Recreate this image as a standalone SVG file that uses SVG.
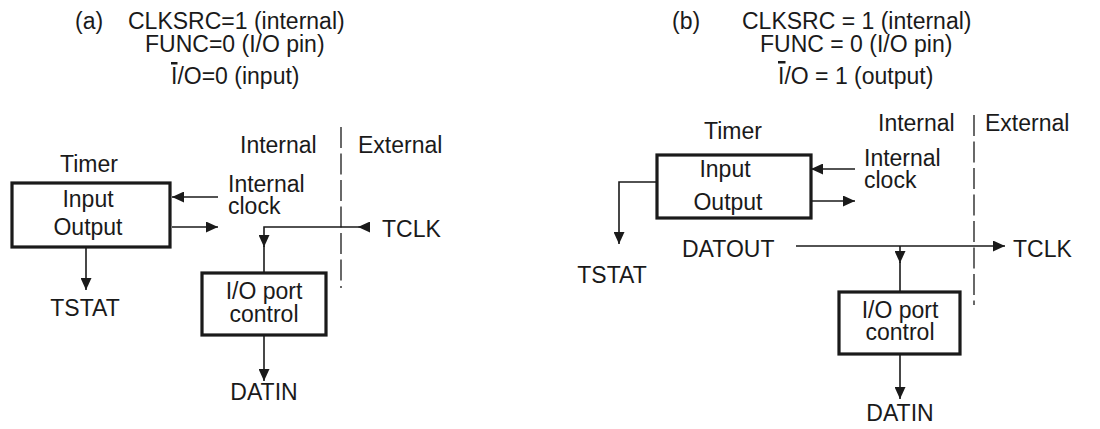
<svg xmlns="http://www.w3.org/2000/svg" width="1100" height="429" viewBox="0 0 1100 429">
<defs>
<style>
text{font-family:"Liberation Sans",Arial,Helvetica,sans-serif;font-size:23px;fill:#1a1a1a}
.box{fill:#fff;stroke:#1a1a1a;stroke-width:3.2}
.ln{fill:none;stroke:#1a1a1a;stroke-width:1.6}
.arr{fill:none;stroke:#1a1a1a;stroke-width:1.6;marker-end:url(#ah)}
.dash{fill:none;stroke:#444;stroke-width:1.6;stroke-dasharray:21 5.5}
.bar{fill:#1a1a1a}
.mid{text-anchor:middle}
</style>
<marker id="ah" viewBox="0 0 12 11" refX="12" refY="5.5" markerWidth="12" markerHeight="11" markerUnits="userSpaceOnUse" orient="auto">
<path d="M0,0 L12,5.5 L0,11 Z" fill="#1a1a1a"/>
</marker>
</defs>
<rect width="1100" height="429" fill="#fff"/>

<!-- Panel (a) header -->
<g id="header-a">
<text x="75" y="29">(a)</text>
<text x="128" y="29">CLKSRC=1 (internal)</text>
<text x="145" y="52">FUNC=0 (I/O pin)</text>
<rect class="bar" x="171" y="62" width="6.5" height="2.5"/>
<text x="171" y="84">I/O=0 (input)</text>
<text x="240" y="153">Internal</text>
<text x="358" y="153">External</text>
</g>

<g id="timer-a">
<text x="89" y="172" class="mid">Timer</text>
<rect class="box" x="12" y="183" width="158" height="64"/>
<text x="88" y="207" class="mid">Input</text>
<text x="88" y="235" class="mid">Output</text>
</g>
<g id="clock-a">
<text x="228" y="192">Internal</text>
<text x="228" y="214">clock</text>
</g>
<g id="tclk-a"><text x="382" y="237">TCLK</text></g>
<g id="tstat-a"><text x="85" y="316" class="mid">TSTAT</text></g>
<g id="ioport-a">
<rect class="box" x="202" y="273" width="124" height="62"/>
<text x="264" y="299" class="mid">I/O port</text>
<text x="264" y="322" class="mid">control</text>
</g>
<g id="datin-a"><text x="264" y="400" class="mid">DATIN</text></g>

<!-- Panel (b) header -->
<g id="header-b">
<text x="672" y="29">(b)</text>
<text x="742" y="29">CLKSRC = 1 (internal)</text>
<text x="760" y="52">FUNC = 0 (I/O pin)</text>
<rect class="bar" x="778" y="61" width="7.5" height="2.5"/>
<text x="778" y="84">I/O = 1 (output)</text>
<text x="878" y="131">Internal</text>
<text x="985" y="131">External</text>
</g>

<g id="timer-b">
<text x="733" y="139" class="mid">Timer</text>
<rect class="box" x="657" y="155" width="154" height="63"/>
<text x="725" y="177" class="mid">Input</text>
<text x="728" y="210" class="mid">Output</text>
</g>
<g id="clock-b">
<text x="864" y="166">Internal</text>
<text x="864" y="188">clock</text>
</g>
<g id="tstat-b"><text x="612" y="283" class="mid">TSTAT</text></g>
<g id="datout-b"><text x="682" y="257">DATOUT</text></g>
<g id="tclk-b"><text x="1013" y="257">TCLK</text></g>
<g id="ioport-b">
<rect class="box" x="839" y="292" width="121" height="62"/>
<text x="900" y="318" class="mid">I/O port</text>
<text x="900" y="340" class="mid">control</text>
</g>
<g id="datin-b"><text x="900" y="421" class="mid">DATIN</text></g>

<g id="connectors">
<!-- (a) -->
<path class="dash" d="M341,127 V288"/>
<path class="arr" d="M218,197 H172"/>
<path class="arr" d="M172,227 H218"/>
<path class="arr" d="M370,227 H358"/>
<path class="arr" d="M358,227 H264 V247"/>
<path class="ln" d="M264,246 V273"/>
<path class="arr" d="M86,247 V290"/>
<path class="arr" d="M264,335 V381"/>
<!-- (b) -->
<path class="dash" d="M974,115 V305"/>
<path class="arr" d="M855,169 H811"/>
<path class="arr" d="M811,201 H855"/>
<path class="arr" d="M657,182 H619 V244"/>
<path class="arr" d="M796,246 H1005"/>
<path class="arr" d="M900,246 V263"/>
<path class="ln" d="M900,262 V292"/>
<path class="arr" d="M900,354 V399"/>
</g>
</svg>
